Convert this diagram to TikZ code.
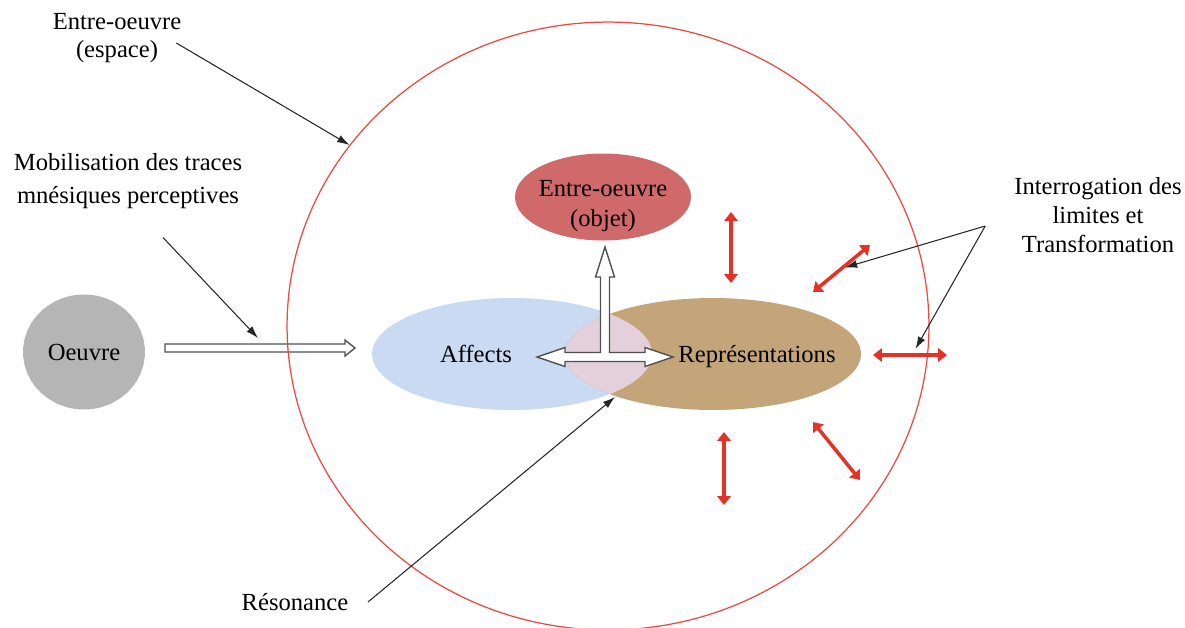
\documentclass[tikz,border=0pt]{standalone}
\usepackage{fontspec}
\setmainfont{Liberation Serif}
\usetikzlibrary{arrows.meta,shapes.geometric}

\definecolor{spacered}{RGB}{236,72,64}
\definecolor{limitred}{RGB}{228,50,38}
\definecolor{affectblue}{RGB}{202,218,243}
\definecolor{reprbrown}{RGB}{196,165,122}
\definecolor{overlappink}{RGB}{228,208,218}
\definecolor{objetred}{RGB}{208,106,106}
\definecolor{oeuvregray}{RGB}{181,181,181}
\definecolor{hollowgray}{RGB}{80,80,80}

\begin{document}
\begin{tikzpicture}[x=0.02cm,y=-0.02cm,
  every node/.style={font=\fontsize{14}{16.5}\selectfont},
  blob/.style={ellipse,inner sep=0pt},
  lbl/.style={align=center,inner sep=1pt},
  pointer/.style={-{Latex[length=7pt,width=4.5pt]},line width=0.6pt,black!85},
  limit/.style={{Triangle[length=5pt,width=7.5pt]}-{Triangle[length=5pt,width=7.5pt]},
    line width=2pt,limitred},
  hollow/.style={draw=hollowgray,fill=white,line width=0.8pt,line join=miter}]

  \clip (0,0) rectangle (1185,627);

  \node[blob,fill=oeuvregray,minimum width=2.44cm,minimum height=2.3cm] (oeuvre) at (84,352) {Oeuvre};
  % hollow arrow from the oeuvre
  \draw[hollow] (165,344) -- (345,344) -- (345,340) -- (355,348) -- (345,356)
    -- (345,352) -- (165,352) -- cycle;

  \node[blob,draw=spacered,line width=0.7pt,minimum width=12.84cm,minimum height=12.16cm] (espace) at (608,326) {};

  \node[blob,fill=affectblue,minimum width=5.6cm,minimum height=2.24cm] (affects) at (512,354) {};
  \node[blob,fill=reprbrown,minimum width=5.92cm,minimum height=2.24cm] (repr) at (713,354) {};
  \begin{scope}
    \clip (512,354) ellipse [x radius=140,y radius=56];
    \fill[overlappink] (713,354) ellipse [x radius=148,y radius=56];
  \end{scope}
  \node[blob,fill=objetred,minimum width=3.52cm,minimum height=1.74cm] (objet) at (603,197) {};

  \node at (476,354) {Affects};
  \node at (757,357) {Représentations};
  \node[lbl,font=\fontsize{14}{17}\selectfont] at (603,206) {Entre-oeuvre\\(objet)};

  % T-shaped hollow arrow
  \draw[hollow,shift={(605,357)}] (0,-110) -- (9.5,-80) -- (4.5,-80) -- (4.5,-4.5)
    -- (40,-4.5) -- (40,-9.5) -- (68,0) -- (40,9.5) -- (40,4.5) -- (-40,4.5)
    -- (-40,9.5) -- (-68,0) -- (-40,-9.5) -- (-40,-4.5) -- (-4.5,-4.5)
    -- (-4.5,-80) -- (-9.5,-80) -- cycle;

  % limits
  \foreach \xa/\ya/\xb/\yb [count=\i] in {731/212/731/283, 813/292/870/245,
      873/355/947/355, 813/422/860/480, 724/432/724/505}
    \draw[limit] (\xa,\ya) -- (\xb,\yb) coordinate[pos=0.5] (lim\i);

  \node[lbl,font=\fontsize{14}{15.5}\selectfont] (lblespace) at (117,38) {Entre-oeuvre\\(espace)};
  \node[lbl,font=\fontsize{14}{18.5}\selectfont] (lblmob) at (128,181) {Mobilisation des traces\\mnésiques perceptives};
  \node[lbl] (lblinter) at (1098,215) {Interrogation des\\limites et\\Transformation};
  \node[lbl] (lblres) at (295,602) {Résonance};

  \coordinate (apex) at ([shift={(-27,11)}]lblinter.west);

  \draw[pointer] ([shift={(-7,5)}]lblespace.east) -- (espace.145);
  \draw[pointer] ([shift={(35,27)}]lblmob.south) -- (258,338);
  \draw[pointer] ([xshift=10pt]lblres.east) -- (615,397);
  \draw[pointer,shorten >=2pt] (apex) -- (lim2);
  \draw[pointer,shorten >=4pt] (apex) -- (912,355);
\end{tikzpicture}
\end{document}
